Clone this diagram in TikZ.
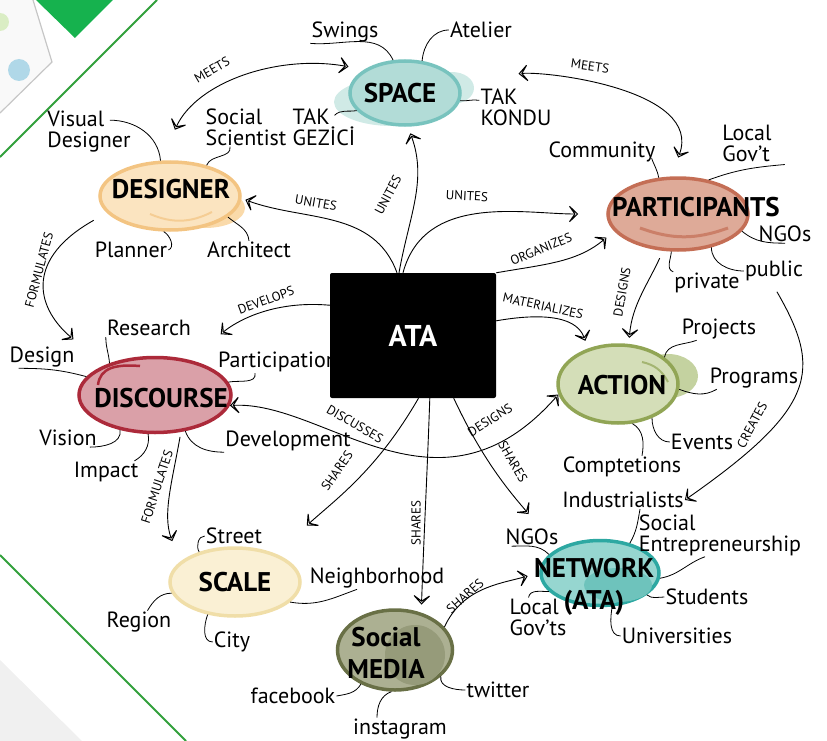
\documentclass[tikz,border=0pt]{standalone}
\usepackage{fontspec}
\setmainfont{PT Sans}
\usepackage{tikz}
\usetikzlibrary{arrows.meta, shapes.geometric, calc}

\definecolor{topgreen}{RGB}{22,178,78}
\definecolor{linegreen}{RGB}{50,160,60}
\definecolor{spacefill}{RGB}{178,220,215}
\definecolor{spaceline}{RGB}{120,195,190}
\definecolor{spacesoft}{RGB}{208,234,230}
\definecolor{designerfill}{RGB}{251,228,192}
\definecolor{designerline}{RGB}{243,196,130}
\definecolor{designersoft}{RGB}{250,218,170}
\definecolor{partfill}{RGB}{222,170,152}
\definecolor{partline}{RGB}{196,110,85}
\definecolor{discfill}{RGB}{218,160,168}
\definecolor{discline}{RGB}{172,42,58}
\definecolor{actionfill}{RGB}{212,222,184}
\definecolor{actionline}{RGB}{145,165,85}
\definecolor{actionsoft}{RGB}{196,210,160}
\definecolor{scalefill}{RGB}{250,240,212}
\definecolor{scaleline}{RGB}{240,222,168}
\definecolor{mediafill}{RGB}{172,176,146}
\definecolor{medialine}{RGB}{105,112,70}
\definecolor{mediadark}{RGB}{150,155,122}
\definecolor{netfill}{RGB}{150,214,208}
\definecolor{netline}{RGB}{45,168,162}
\definecolor{netdark}{RGB}{110,195,188}

\tikzset{
  chev/.tip={Stealth[open, length=12pt, width=23pt, inset=8pt, line width=1.1pt]},
  blob/.style 2 args={ellipse, fill=#1, draw=#2, line width=3.5pt, inner sep=0pt},
  hub/.style={font=\bfseries\fontsize{27}{32}\selectfont, align=center, inner sep=1pt},
  leaf/.style={font=\fontsize{22}{21}\selectfont, align=left, inner sep=1pt},
  verb/.style={font=\fontsize{13}{13}\selectfont, inner sep=1pt},
  link/.style={line width=0.9pt},
  twig/.style={line width=0.8pt}
}

\begin{document}
\begin{tikzpicture}[x=1pt, y=1pt]
        \useasboundingbox (0,0) rectangle (827,-741);

        \fill[gray!5] (0,0) -- (33,0) -- (52,-62) -- (0,-113) -- cycle;
        \draw[gray!45, line width=1.2pt] (33,0) -- (52,-62) -- (0,-113);
        \fill[yellow!50!green, opacity=.25] (0,-22) circle (9);
        \fill[cyan!60!teal, opacity=.35] (19,-70) circle (11);
        \fill[topgreen] (36,0) -- (113,0) -- (75,-38) -- cycle;
        \draw[linegreen, line width=2pt] (157,0) -- (0,-157);
        \fill[gray!12] (0,-660) -- (82,-741) -- (0,-741) -- cycle;
        \draw[linegreen, line width=2pt] (0,-555) -- (186,-741);

        \fill[spacesoft] (392,-102) ellipse [x radius=58, y radius=24];
        \fill[spacesoft] (452,-88) ellipse [x radius=22, y radius=16];
        \fill[designersoft] (205,-208) ellipse [x radius=40, y radius=20];
        \fill[actionsoft] (668,-376) ellipse [x radius=30, y radius=22];

        \node[blob={spacefill}{spaceline}, minimum width=110pt, minimum height=64pt] (space) at (405,-93) {};
        \node[blob={designerfill}{designerline}, minimum width=140pt, minimum height=68pt] (designer) at (170,-196) {};
        \node[blob={partfill}{partline}, minimum width=140pt, minimum height=72pt] (participants) at (678,-214) {};
        \node[blob={discfill}{discline}, minimum width=152pt, minimum height=75pt] (discourse) at (155,-395) {};
        \node[blob={actionfill}{actionline}, minimum width=120pt, minimum height=78pt] (action) at (618,-384) {};
        \node[blob={scalefill}{scaleline}, minimum width=130pt, minimum height=68pt] (scale) at (235,-582) {};
        \node[blob={mediafill}{medialine}, minimum width=115pt, minimum height=80pt] (media) at (395,-650) {};
        \node[blob={netfill}{netline}, minimum width=118pt, minimum height=65pt] (network) at (600,-573) {};

        \fill[mediadark] (415,-655) ellipse [x radius=30, y radius=30];
        \fill[netdark] (618,-585) ellipse [x radius=34, y radius=17];
        \draw[partline, line width=3pt, opacity=.7] (640,-228) to[bend right=20] (728,-228);
        \draw[designerline, line width=2pt, opacity=.7] (150,-214) to[bend right=25] (212,-212);
        \draw[discline, line width=2.5pt] (98,-385) .. controls (100,-368) and (115,-364) .. (140,-366);
        \draw[actionline, line width=2pt, opacity=.7] (642,-362) to[bend left=25] (668,-382);

        \node[hub] (spacetxt) at (400,-93) {SPACE};
        \node[hub] (designertxt) at (171,-189) {DESIGNER};
        \node[hub] (participantstxt) at (696,-207) {PARTICIPANTS};
        \node[hub] (discoursetxt) at (161,-398) {DISCOURSE};
        \node[hub] (actiontxt) at (622,-385) {ACTION};
        \node[hub] (scaletxt) at (235,-582) {SCALE};
        \node[hub] (mediatxt) at (386,-653) {Social\\MEDIA};
        \node[hub] (networktxt) at (594,-587) {NETWORK\\(ATA)};

        \node[leaf] (swings) at (345,-32) {Swings};
        \node[leaf] (atelier) at (481,-30) {Atelier};
        \node[leaf] (takgezici) at (324,-127) {TAK\\GEZİCİ};
        \node[leaf] (takkondu) at (516,-107) {TAK\\KONDU};
        \node[leaf] (visualdes) at (89,-132) {Visual\\Designer};
        \node[leaf] (socialsci) at (246,-127) {Social\\Scientist};
        \node[leaf] (planner) at (131,-250) {Planner};
        \node[leaf] (architect) at (249,-250) {Architect};
        \node[leaf] (community) at (602,-152) {Community};
        \node[leaf] (localgov) at (747,-143) {Local\\Gov’t};
        \node[leaf] (ngospart) at (785,-234) {NGOs};
        \node[leaf] (public) at (774,-271) {public};
        \node[leaf] (private) at (707,-283) {private};
        \node[leaf] (research) at (149,-328) {Research};
        \node[leaf] (design) at (42,-357) {Design};
        \node[leaf] (participation) at (278,-362) {Participation};
        \node[leaf] (vision) at (68,-438) {Vision};
        \node[leaf] (impact) at (106,-472) {Impact};
        \node[leaf] (development) at (288,-441) {Development};
        \node[leaf] (projects) at (719,-329) {Projects};
        \node[leaf] (programs) at (754,-378) {Programs};
        \node[leaf] (events) at (702,-442) {Events};
        \node[leaf] (comptetions) at (622,-467) {Comptetions};
        \node[leaf] (industrialists) at (623,-500) {Industrialists};
        \node[leaf] (socialent) at (720,-535) {Social\\Entrepreneurship};
        \node[leaf] (ngosnet) at (532,-537) {NGOs};
        \node[leaf] (localgovts) at (538,-617) {Local\\Gov’ts};
        \node[leaf] (students) at (707,-597) {Students};
        \node[leaf] (universities) at (677,-636) {Universities};
        \node[leaf] (street) at (234,-536) {Street};
        \node[leaf] (neighborhood) at (377,-578) {Neighborhood};
        \node[leaf] (region) at (139,-622) {Region};
        \node[leaf] (city) at (232,-642) {City};
        \node[leaf] (facebook) at (293,-696) {facebook};
        \node[leaf] (twitter) at (498,-690) {twitter};
        \node[leaf] (instagram) at (400,-729) {instagram};

        \node[fill=black, text=white, font=\bfseries\fontsize{30}{30}\selectfont, minimum width=166pt, minimum height=125pt, rounded corners=2pt] (ata) at (413,-335.5) {ATA};

        \draw[twig] (swings.south west) to[out=-5, in=115] (space.110);
        \draw[twig] (space.62) to[out=85, in=180] (atelier.west);
        \draw[twig] ([shift={(-22pt,-8pt)}]takgezici.north east) to[out=45, in=190] (space.200);
        \draw[twig] (space.-8) to[out=-5, in=170] ([yshift=-13pt]takkondu.north west);
        \draw[twig] ([shift={(-22pt,-10pt)}]visualdes.north east) to[out=0, in=95] (designer.105);
        \draw[twig] (designer.40) to[out=70, in=-80] ([xshift=-16pt]socialsci.south);
        \draw[twig] (designer.-100) to[out=-30, in=20] (planner.east);
        \draw[twig] (designer.-20) to[out=-40, in=95] (architect.north);
        \draw[twig] (participants.118) to[out=100, in=-70] ([shift={(-5pt,5pt)}]community.south east);
        \draw[twig] (participants.48) to[out=20, in=185] ([shift={(12pt,-2pt)}]localgov.south east);
        \draw[twig] (participants.-15) to[out=-40, in=180] (ngospart.south);
        \draw[twig] (participants.-45) to[out=-90, in=180] (public.west);
        \draw[twig] (participants.-100) to[out=-95, in=160] (private.north west);
        \draw[twig] (discourse.145) to[out=95, in=-90] (research.south west);
        \draw[twig] ([xshift=10pt]design.south west) to[out=0, in=165] (discourse.165);
        \draw[twig] (discourse.10) to[out=10, in=-80] ([xshift=-23pt]participation.south);
        \draw[twig] (discourse.-135) to[out=-80, in=0] ([xshift=-8pt]vision.south east);
        \draw[twig] (discourse.-100) to[out=-80, in=30] ([xshift=-5pt]impact.north east);
        \draw[twig] (discourse.-50) to[out=-70, in=180] (development.south west);
        \draw[twig] (action.30) to[out=80, in=-160] ([xshift=16pt]projects.south west);
        \draw[twig] (action.-5) to[out=-20, in=-150] ([xshift=8pt]programs.south west);
        \draw[twig] (action.-45) to[out=-90, in=180] (events.west);
        \draw[twig] (action.-70) to[out=-30, in=80] ([xshift=20pt]comptetions.north);
        \draw[twig] (network.45) to[out=60, in=-100] ([xshift=17pt]industrialists.south);
        \draw[twig] (network.-5) to[out=10, in=-160] ([xshift=-15pt]socialent.south);
        \draw[twig] (network.160) to[out=135, in=0] ([xshift=7pt]ngosnet.south west);
        \draw[twig] (network.200) to[out=180, in=80] ([xshift=20pt]localgovts.north west);
        \draw[twig] (network.-25) to[out=-40, in=180] (students.west);
        \draw[twig] (network.-70) to[out=-100, in=180] (universities.west);
        \draw[twig] (scale.140) to[out=120, in=180] (street.west);
        \draw[twig] (scale.-20) to[out=-10, in=-160] ([xshift=-20pt]neighborhood.south);
        \draw[twig] (scale.-170) to[out=180, in=60] ([xshift=-25pt]region.north east);
        \draw[twig] (scale.-130) to[out=-110, in=180] (city.west);
        \draw[twig] (media.-135) to[out=-120, in=10] (facebook.east);
        \draw[twig] (media.-30) to[out=-100, in=180] (twitter.west);
        \draw[twig] (media.-95) to[out=200, in=90] ([xshift=-23pt]instagram.north);

        \draw[link, {chev}-{chev}, shorten <=16pt, shorten >=34pt] (space.150) to[out=170, in=65] (designer.105);
        \draw[link, {chev}-{chev}, shorten <=62pt, shorten >=20pt] (space.15) to[out=5, in=70] (participants.100);
        \draw[link, -{chev}, shorten >=4pt] ([xshift=-16pt]ata.north) to[out=110, in=-20] (designer.-2);
        \draw[link, -{chev}, shorten >=7pt] ([xshift=-14pt]ata.north) to[out=80, in=-70] (space.-85);
        \draw[link, -{chev}, shorten >=28pt] ([xshift=-10pt]ata.north) to[out=75, in=180] (participants.180);
        \draw[link, -{chev}, shorten >=10pt] (ata.north east) to[out=10, in=-140] (participants.195);
        \draw[link, -{chev}, shorten <=8pt, shorten >=6pt] (participants.248) to[out=-115, in=85] (action.75);
        \draw[link, -{chev}, shorten <=70pt] (participants.-15) to[out=-60, in=35, looseness=1.5] (industrialists.east);
        \draw[link, -{chev}, shorten >=8pt] (ata.10) to[out=10, in=110] (action.130);
        \draw[link, -{chev}, shorten >=40pt] (ata.160) to[out=175, in=40] (discourse.45);
        \draw[link, {chev}-{chev}] (discourse.-8) .. controls +(95,5) and +(-120,-136) .. (action.190);
        \draw[link, -{chev}, shorten >=42pt] (ata.-85) to[out=-120, in=42] (scale.35);
        \draw[link, -{chev}, shorten >=8pt] (ata.-75) to[out=-92, in=88] (media.55);
        \draw[link, -{chev}, shorten >=45pt] (ata.-57) to[out=-65, in=130] (network.150);
        \draw[link, -{chev}, shorten >=12pt] (media.25) to[out=65, in=195] (network.180);
        \draw[link, -{chev}, shorten <=5pt, shorten >=22pt] (discourse.-55) to[out=-100, in=110] (scale.160);
        \draw[link, -{chev}, shorten <=15pt, shorten >=40pt] (designer.195) .. controls +(-80,-45) and +(-70,60) .. (discourse.150);

        \node[verb, rotate=30] (meetsl) at (212,-70) {MEETS};
        \node[verb, rotate=-8] (meetsr) at (590,-66) {MEETS};
        \node[verb, rotate=-10] (unitesd) at (316,-203) {UNITES};
        \node[verb, rotate=62] (unitess) at (388,-195) {UNITES};
        \node[verb, rotate=-3] (unitesp) at (467,-196) {UNITES};
        \node[verb, rotate=22] (organizes) at (541,-249) {ORGANIZES};
        \node[verb, rotate=80] (designsp) at (622,-292) {DESIGNS};
        \node[verb, rotate=62] (creates) at (752,-425) {CREATES};
        \node[verb, rotate=-12] (materializes) at (543,-306) {MATERIALIZES};
        \node[verb, rotate=20] (develops) at (266,-300) {DEVELOPS};
        \node[verb, rotate=-30] (discusses) at (355,-424) {DISCUSSES};
        \node[verb, rotate=32] (designsa) at (490,-420) {DESIGNS};
        \node[verb, rotate=55] (sharess) at (337,-471) {SHARES};
        \node[verb, rotate=90] (sharesm) at (416,-523) {SHARES};
        \node[verb, rotate=-60] (sharesn) at (513,-462) {SHARES};
        \node[verb, rotate=42] (sharesmn) at (465,-596) {SHARES};
        \node[verb, rotate=75] (formulatesd) at (39,-270) {FORMULATES};
        \node[verb, rotate=72] (formulatess) at (157,-487) {FORMULATES};
\end{tikzpicture}
\end{document}
